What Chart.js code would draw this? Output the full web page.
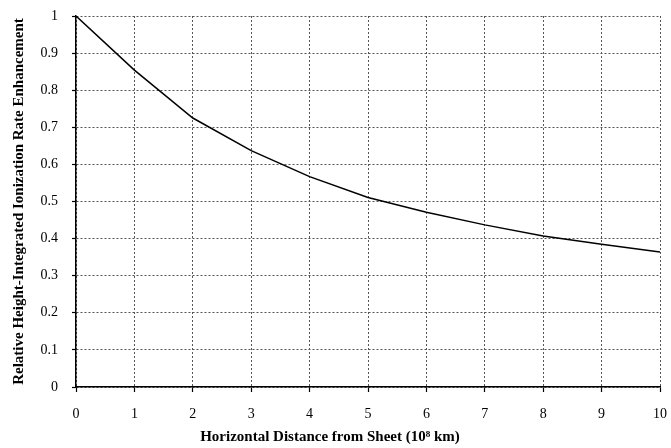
<!DOCTYPE html>
<html>
<head>
<meta charset="utf-8">
<script src="https://cdn.jsdelivr.net/npm/chart.js@4/dist/chart.umd.min.js"></script>
<style>
  html, body { margin: 0; padding: 0; background: #fff; }
  #wrap { width: 671px; height: 448px; }
</style>
</head>
<body>
<div id="wrap"><canvas id="chart" width="671" height="448"></canvas></div>
<script>
// Distance from sheet (10^8 km) and relative enhancement
const distances = [0, 1, 2, 3, 4, 5, 6, 7, 8, 9, 10];
const enhancement = [1.0, 0.854, 0.725, 0.637, 0.567, 0.511, 0.471, 0.437, 0.407, 0.385, 0.364];

const xTitle = 'Horizontal Distance from Sheet (10\u2078 km)';
const yTitle = 'Relative Height-Integrated Ionization Rate Enhancement';

const serif = "'Liberation Serif', 'Times New Roman', serif";

const gridStyle = {
    color: '#555',
    lineWidth: 1,
    tickColor: '#000',
    tickWidth: 1.2,
    tickBorderDash: [],
    tickLength: 5
};
const borderStyle = { display: true, color: '#000', width: 1.5, dash: [2, 2] };

new Chart(document.getElementById('chart').getContext('2d'), {
    type: 'line',
    data: {
        datasets: [{
            data: distances.map((d, i) => ({ x: d, y: enhancement[i] })),
            borderColor: '#000',
            borderWidth: 1.5,
            pointRadius: 0,
            tension: 0,
            fill: false
        }]
    },
    options: {
        responsive: false,
        animation: false,
        layout: { padding: { top: 16, right: 11, bottom: 0, left: 0 } },
        plugins: {
            legend: { display: false },
            tooltip: { enabled: false },
            // x axis title, centred on the page like the original
            title: {
                display: true,
                position: 'bottom',
                text: xTitle,
                color: '#000',
                font: { family: serif, size: 15, weight: 'bold' },
                padding: { top: 0, bottom: 2 }
            }
        },
        scales: {
            x: {
                type: 'linear',
                min: 0,
                max: 10,
                ticks: { stepSize: 1, color: '#000', padding: 14, font: { family: serif, size: 14 } },
                grid: gridStyle,
                border: borderStyle,
                afterFit: scale => {
                    scale.height = 41;
                    scale.paddingLeft = 0;
                    scale.paddingRight = 0;
                }
            },
            y: {
                min: 0,
                max: 1,
                ticks: {
                    stepSize: 0.1,
                    color: '#000',
                    padding: 14,
                    font: { family: serif, size: 14 },
                    callback: v => String(Math.round(v * 10) / 10)
                },
                grid: Object.assign({}, gridStyle, { tickLength: 4 }),
                border: borderStyle,
                title: {
                    display: true,
                    text: yTitle,
                    color: '#000',
                    font: { family: serif, size: 15, weight: 'bold' },
                    padding: { top: 10, bottom: 0 }
                },
                afterFit: scale => {
                    scale.width = 76;
                    scale.paddingTop = 0;
                    scale.paddingBottom = 0;
                }
            }
        }
    }
});
</script>
</body>
</html>
